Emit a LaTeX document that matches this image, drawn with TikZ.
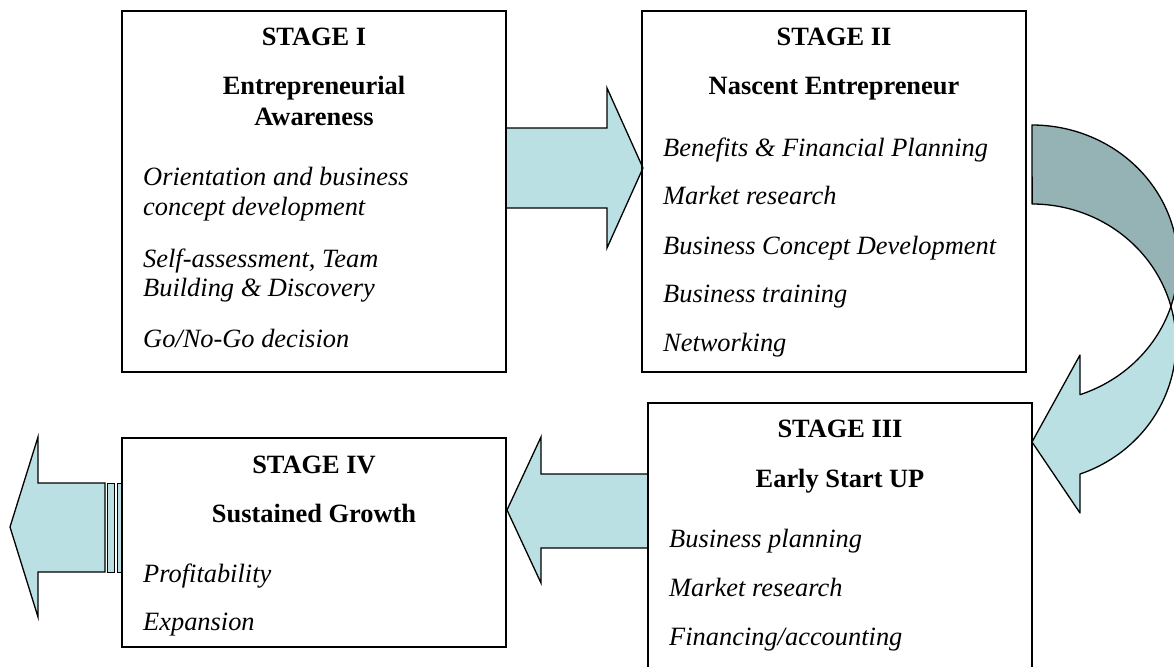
\documentclass[tikz,border=0pt]{standalone}
\usepackage{fontspec}
\setmainfont{Liberation Serif}
\definecolor{arrowlight}{RGB}{187,224,227}
\definecolor{arrowdark}{RGB}{149,178,181}
\begin{document}
\begin{tikzpicture}[x=1pt,y=-1pt,
  stagebox/.style={draw, line width=1.5pt, inner sep=0pt, minimum width=384pt},
  headtxt/.style={font=\fontsize{26.4}{30}\selectfont\bfseries, anchor=base, inner sep=0pt},
  itemtxt/.style={font=\fontsize{26.4}{30}\selectfont\itshape, anchor=base west, inner sep=0pt},
  blockarrow/.style={fill=arrowlight, draw=black, line width=1.3pt, line join=miter},
  stripe/.style={fill=arrowlight, draw=black, line width=0.9pt},
  curvearrow/.style={draw=black, line width=1.3pt, line join=round}]
\useasboundingbox (0,0) rectangle (1174,666);
\clip (0,0) rectangle (1174,666);

% straight block arrows
\draw[blockarrow] (506,128) -- (607,128) -- (607,88) -- (643,168) -- (607,248) -- (607,208) -- (506,208) -- cycle;
\draw[blockarrow] (648,474) -- (541,474) -- (541,437) -- (507,510) -- (541,583) -- (541,548) -- (648,548) -- cycle;
\draw[blockarrow] (105,483) -- (38,483) -- (38,437) -- (10,527) -- (38,617) -- (38,572) -- (105,572) -- cycle;
\draw[stripe] (107.5,483) rectangle (114.5,572);
\draw[stripe] (117,483) rectangle (121,572);

% curved arrow (dark back part)
\draw[curvearrow, fill=arrowdark]
  plot[domain=-90:17.89, samples=80] ({1032+146*cos(\x)},{263.7+138.7*sin(\x)})
  -- plot[domain=0:1, samples=80] ({1032+144*cos(-15.31-74.69*\x)},{343+139*sin(-15.31-74.69*\x)})
  -- cycle;
% curved arrow (light front part with head)
\draw[curvearrow, fill=arrowlight]
  plot[domain=-15.31:70.53, samples=80] ({1032+144*cos(\x)},{343+139*sin(\x)})
  -- (1080,513) -- (1032,442) -- (1080,355) -- (1080,394.7)
  -- plot[domain=0:1, samples=80] ({1032+146*cos(70.8-52.91*\x)},{263.7+138.7*sin(70.8-52.91*\x)})
  -- cycle;

% boxes
\node[stagebox, minimum height=361pt] (b1) at (314,191.5) {};
\node[stagebox, minimum height=361pt] (b2) at (834,191.5) {};
\node[stagebox, minimum height=277pt] (b3) at (840,541.5) {};
\node[stagebox, minimum height=209pt] (b4) at (314,542.5) {};

% Stage I
\node[headtxt] (h1a) at (314,46) {STAGE I};
\node[headtxt] (h1b) at (314,95) {Entrepreneurial};
\node[headtxt] (h1c) at (314,125) {Awareness};
\node[itemtxt] (i1a) at (143,185) {Orientation and business};
\node[itemtxt] (i1b) at (143,215) {concept development};
\node[itemtxt] (i1c) at (143,267) {Self-assessment, Team};
\node[itemtxt] (i1d) at (143,296) {Building \& Discovery};
\node[itemtxt] (i1e) at (143,347) {Go/No-Go decision};

% Stage II
\node[headtxt] (h2a) at (834,46) {STAGE II};
\node[headtxt] (h2b) at (834,95) {Nascent Entrepreneur};
\node[itemtxt] (i2a) at (663,156) {Benefits \& Financial Planning};
\node[itemtxt] (i2b) at (663,204) {Market research};
\node[itemtxt] (i2c) at (663,254) {Business Concept Development};
\node[itemtxt] (i2d) at (663,302) {Business training};
\node[itemtxt] (i2e) at (663,351) {Networking};

% Stage III
\node[headtxt] (h3a) at (840,437) {STAGE III};
\node[headtxt] (h3b) at (840,487) {Early Start UP};
\node[itemtxt] (i3a) at (669,547) {Business planning};
\node[itemtxt] (i3b) at (669,596) {Market research};
\node[itemtxt] (i3c) at (669,645) {Financing/accounting};

% Stage IV
\node[headtxt] (h4a) at (314,473) {STAGE IV};
\node[headtxt] (h4b) at (314,522) {Sustained Growth};
\node[itemtxt] (i4a) at (143,582) {Profitability};
\node[itemtxt] (i4b) at (143,630) {Expansion};
\end{tikzpicture}
\end{document}
